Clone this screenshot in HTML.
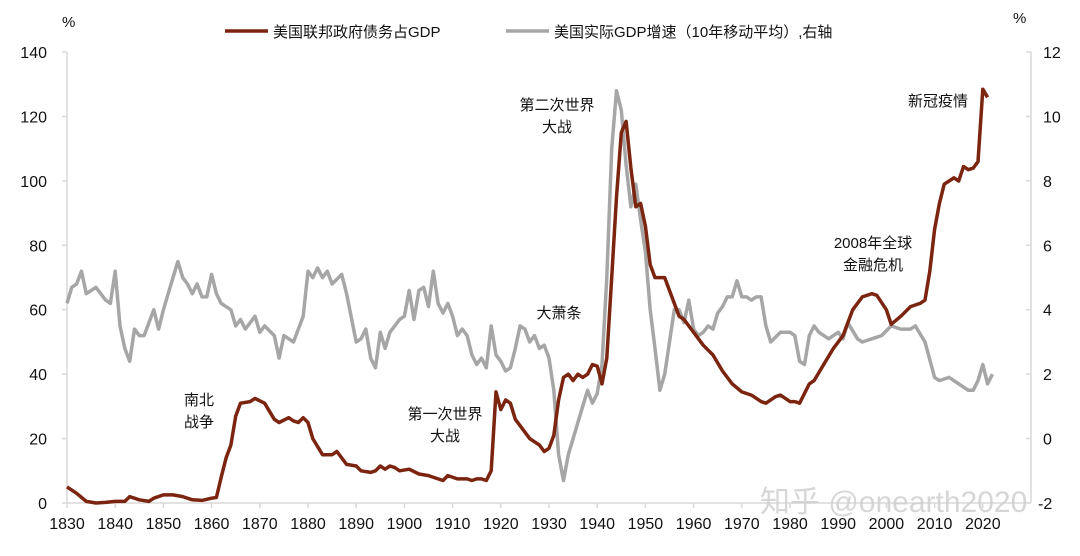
<!DOCTYPE html>
<html><head><meta charset="utf-8"><style>
body{margin:0;background:#fff;}
svg text{font-family:"Liberation Sans","Noto Sans CJK SC",sans-serif;fill:#111;}
</style></head><body>
<svg id="s" width="1080" height="551" viewBox="0 0 1080 551" xmlns="http://www.w3.org/2000/svg">
<rect width="1080" height="551" fill="#fff"/>
<g stroke="#d9d9d9" stroke-width="1.5" fill="none">
<line x1="67" y1="52" x2="67" y2="503"/>
<line x1="1031" y1="52" x2="1031" y2="503"/>
<line x1="67" y1="503" x2="1031" y2="503"/>
</g>
<g id="ticks" stroke="#d9d9d9" stroke-width="1.5"></g>
<g id="yl" font-size="16"></g>
<g id="xl" font-size="16" text-anchor="middle"></g>
<text x="62" y="27" font-size="15">%</text>
<text x="1013" y="23" font-size="15">%</text>
<line x1="225" y1="31" x2="268" y2="31" stroke="#7b2410" stroke-width="3.5"/>
<text x="273" y="37" font-size="15">美国联邦政府债务占GDP</text>
<line x1="506" y1="31" x2="549" y2="31" stroke="#a6a6a6" stroke-width="3.5"/>
<text x="554" y="37" font-size="15">美国实际GDP增速（10年移动平均）,右轴</text>
<polyline id="g" fill="none" stroke="#a6a6a6" stroke-width="3.5" stroke-linejoin="round"/>
<polyline id="b" fill="none" stroke="#7b2410" stroke-width="3.5" stroke-linejoin="round"/>
<g font-size="15" text-anchor="middle">
<text x="199" y="405">南北</text><text x="199" y="427">战争</text>
<text x="445" y="419">第一次世界</text><text x="445" y="441">大战</text>
<text x="559" y="318">大萧条</text>
<text x="557" y="110">第二次世界</text><text x="557" y="132">大战</text>
<text x="873" y="248">2008年全球</text><text x="873" y="270">金融危机</text>
<text x="938" y="106">新冠疫情</text>
</g>
<text x="760" y="512" font-size="30" style="fill:#d0d0d0;opacity:0.85">知乎 @onearth2020</text>
</svg>
<script>
var X=y=>67+(y-1830)*4.82;
var debt=[1830,5,1832,3,1834,0.5,1836,0,1838,0.2,1840,0.5,1842,0.5,1843,2,1845,1,1847,0.5,1848,1.5,1850,2.5,1852,2.5,1854,2,1856,1,1858,0.8,1860,1.5,1861,1.7,1862,8,1863,14,1864,18,1865,27,1866,31,1868,31.5,1869,32.5,1871,31,1873,26,1874,25,1876,26.5,1877,25.5,1878,25,1879,26.5,1880,25,1881,20,1883,15,1885,15,1886,16,1888,12,1890,11.5,1891,10,1893,9.5,1894,10,1895,11.5,1896,10.5,1897,11.5,1898,11,1899,10,1901,10.5,1903,9,1905,8.5,1907,7.5,1908,7,1909,8.5,1911,7.5,1913,7.5,1914,7,1915,7.5,1916,7.5,1917,7,1918,10,1919,34.5,1920,29,1921,32,1922,31,1923,26,1924,24,1926,20,1927,19,1928,18,1929,16,1930,17,1931,21,1932,32,1933,39,1934,40,1935,38,1936,40,1937,39,1938,40,1939,43,1940,42.5,1941,37,1942,45,1943,70,1944,95,1945,115,1946,118.5,1947,104,1948,92,1949,93,1950,86,1951,74,1952,70,1953,70,1954,70,1955,66,1956,62,1957,58,1958,57,1960,53,1962,49,1964,46,1966,41,1968,37,1970,34.5,1972,33.5,1974,31.5,1975,31,1977,33,1978,33.5,1980,31.5,1981,31.5,1982,31,1984,37,1985,38,1987,43,1989,48,1991,52,1993,60,1995,64,1997,65,1998,64.5,2000,60,2001,55.5,2003,58,2005,61,2007,62,2008,63,2009,72,2010,85,2011,93,2012,99,2013,100,2014,101,2015,100,2016,104.5,2017,103.5,2018,104,2019,106,2020,128.5,2021,126];
var gdp=[1830,4.2,1831,4.7,1832,4.8,1833,5.2,1834,4.5,1836,4.7,1838,4.3,1839,4.2,1840,5.2,1841,3.5,1842,2.8,1843,2.4,1844,3.4,1845,3.2,1846,3.2,1848,4,1849,3.4,1850,4,1852,5,1853,5.5,1854,5,1855,4.8,1856,4.5,1857,4.8,1858,4.4,1859,4.4,1860,5.1,1861,4.5,1862,4.2,1864,4,1865,3.5,1866,3.7,1867,3.4,1868,3.6,1869,3.8,1870,3.3,1871,3.5,1873,3.2,1874,2.5,1875,3.2,1877,3,1879,3.8,1880,5.2,1881,5,1882,5.3,1883,5,1884,5.2,1885,4.8,1887,5.1,1888,4.5,1890,3,1891,3.1,1892,3.4,1893,2.5,1894,2.2,1895,3.3,1896,2.8,1897,3.3,1899,3.7,1900,3.8,1901,4.6,1902,3.7,1903,4.6,1904,4.7,1905,4.1,1906,5.2,1907,4.2,1908,3.9,1909,4.2,1910,3.8,1911,3.2,1912,3.4,1913,3.2,1914,2.6,1915,2.3,1916,2.5,1917,2.2,1918,3.5,1919,2.6,1920,2.4,1921,2.1,1922,2.2,1923,2.8,1924,3.5,1925,3.4,1926,3,1927,3.2,1928,2.8,1929,2.9,1930,2.5,1931,1.5,1932,-0.5,1933,-1.3,1934,-0.5,1936,0.5,1937,1,1938,1.5,1939,1.1,1940,1.4,1941,2.3,1942,5,1943,9,1944,10.8,1945,10.2,1946,8.5,1947,7.2,1948,7.9,1949,6.8,1950,5.8,1951,4,1952,2.8,1953,1.5,1954,2,1955,3,1956,4,1957,4,1958,3.6,1959,4.3,1960,3.4,1961,3.2,1962,3.3,1963,3.5,1964,3.4,1965,3.9,1966,4.1,1967,4.4,1968,4.4,1969,4.9,1970,4.4,1971,4.4,1972,4.3,1973,4.4,1974,4.4,1975,3.5,1976,3,1978,3.3,1980,3.3,1981,3.2,1982,2.4,1983,2.3,1984,3.2,1985,3.5,1986,3.3,1988,3.1,1990,3.3,1991,3.1,1992,3.6,1994,3.1,1995,3,1997,3.1,1999,3.2,2001,3.5,2003,3.4,2005,3.4,2006,3.5,2008,3.0,2010,1.9,2011,1.8,2013,1.9,2016,1.6,2017,1.5,2018,1.5,2019,1.8,2020,2.3,2021,1.7,2022,2.0];
function pts(a,f){var s=[];for(var i=0;i<a.length;i+=2)s.push(X(a[i]).toFixed(1)+','+f(a[i+1]).toFixed(1));return s.join(' ');}
document.getElementById('b').setAttribute('points',pts(debt,v=>503-v*3.22));
document.getElementById('g').setAttribute('points',pts(gdp,v=>503-(v+2)*32.2));
var ns='http://www.w3.org/2000/svg',xl=document.getElementById('xl'),tk=document.getElementById('ticks'),yl=document.getElementById('yl');
function mk(p,tag,at,txt){var e=document.createElementNS(ns,tag);for(var k in at)e.setAttribute(k,at[k]);if(txt!=null)e.textContent=txt;p.appendChild(e);}
for(var y=1830;y<=2020;y+=10){mk(xl,'text',{x:X(y),y:529},y);mk(tk,'line',{x1:X(y),x2:X(y),y1:503,y2:508});}
for(var k=0;k<8;k++){var yy=503-k*64.43;
mk(tk,'line',{x1:62,x2:67,y1:yy,y2:yy});mk(tk,'line',{x1:1026,x2:1031,y1:yy,y2:yy});
mk(yl,'text',{x:47,y:yy+6,'text-anchor':'end'},k*20);
mk(yl,'text',{x:k==0?1038:1043,y:yy+6},k*2-2);}
</script>
</body></html>
